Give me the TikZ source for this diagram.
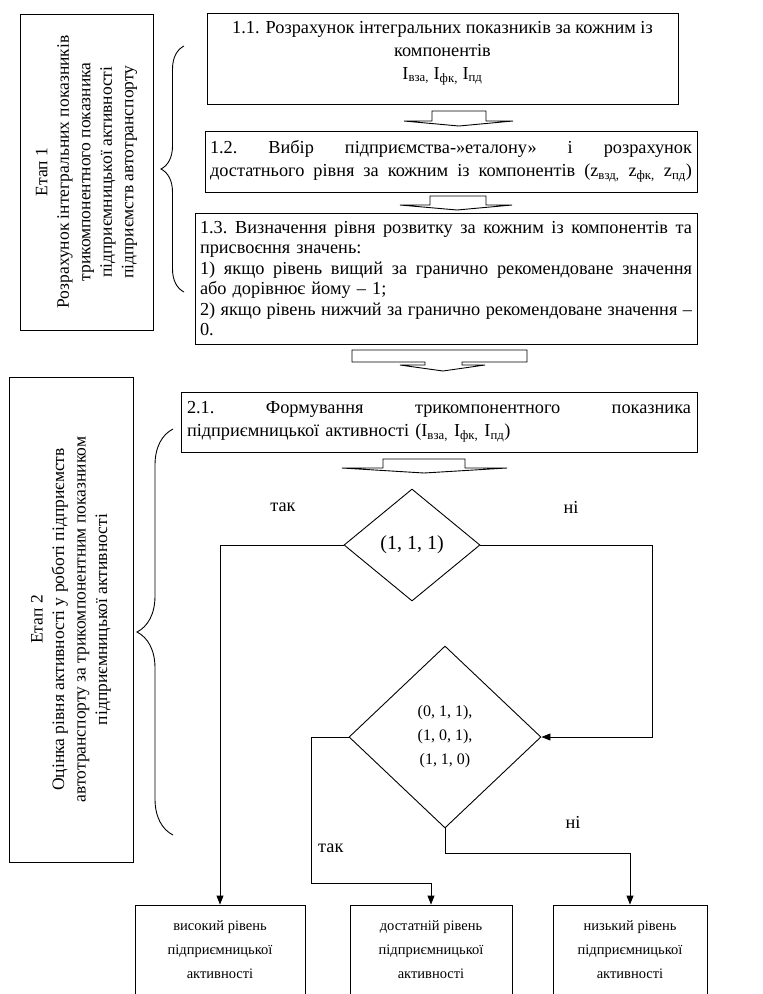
\documentclass[tikz,border=0pt]{standalone}
\usepackage{fontspec}
\setmainfont{Liberation Serif}
\usetikzlibrary{arrows.meta,shapes.geometric,decorations.pathreplacing}
\newcommand\fmain{\fontsize{18.3}{23}\selectfont}
\newcommand\fmainb{\fontsize{18.3}{20.5}\selectfont}
\newcommand\fstage{\fontsize{17.5}{21.5}\selectfont}
\newcommand\fsmall{\fontsize{14.5}{24}\selectfont}
\newcommand\fdia{\fontsize{16}{24}\selectfont}
\newcommand\fdiab{\fontsize{20}{24}\selectfont}
\newcommand\sbs[1]{\textsubscript{#1}}
\newcommand\jl[2]{\leavevmode{\frenchspacing\spaceskip=0.25em plus 1fil\relax\hbox to #1pt{#2}}}
\begin{document}
\begin{tikzpicture}[x=1pt,y=-1pt,
  box/.style={draw, line width=0.9pt, inner sep=0pt, align=center},
  arr/.style={line width=0.9pt, -{Triangle[length=9pt,width=7pt]}},
  ln/.style={line width=0.9pt},
  blk/.style={draw, line width=0.9pt, fill=white, line join=miter},
  lbl/.style={font=\fmain, inner sep=0pt}]
\useasboundingbox (0,0) rectangle (763,994);
\clip (0,0) rectangle (763,994);

% ---------- stage 1 ----------
\node[box, minimum width=133, minimum height=316] (st1) at (86.5,172) {};
\node[rotate=90, font=\fstage, align=center, inner sep=0pt] (st1t) at (st1.center)
  {Етап 1\\Розрахунок інтегральних показників\\трикомпонентного показника\\підприємницької активності\\підприємств автотранспорту};
\draw[ln, decorate, decoration={brace, amplitude=23pt, aspect=0.5}] (184,292) -- (184,46);

\node[box, minimum width=471, minimum height=91] (b11) at (442.5,58.5) {};
\node[font=\fmain, align=center, inner sep=0pt] (b11t) at (442.5,53)
  {1.1. Розрахунок інтегральних показників за кожним із\\компонентів\\I\sbs{вза,} I\sbs{фк,} I\sbs{пд}};

\draw[blk] (432,111) -- (486,111) -- (486,121) -- (513,121) -- (459,126) -- (404,121) -- (432,121) -- cycle;

\node[box, font=\fmain, minimum width=492, minimum height=61, text width=482, align=left] (b12) at (451,161.5)
  {\jl{482}{1.2. Вибір підприємства-»еталону» і розрахунок}\\\jl{482}{достатнього рівня за кожним із компонентів (z\sbs{взд,} z\sbs{фк,} z\sbs{пд})}};

\draw[blk] (430,196) -- (486,196) -- (486,205) -- (512,205) -- (457,210) -- (400,205) -- (430,205) -- cycle;

\node[box, font=\fmainb, minimum width=502, minimum height=131, text width=492, align=left] (b13) at (446,278.5)
  {\jl{492}{1.3. Визначення рівня розвитку за кожним із компонентів та}\\присвоєння значень:\\\jl{492}{1) якщо рівень вищий за гранично рекомендоване значення}\\або дорівнює йому – 1;\\\jl{492}{2) якщо рівень нижчий за гранично рекомендоване значення –}\\0.};

\draw[blk] (352,350) -- (527,350) -- (527,362) -- (462,362) -- (462,365) -- (485,365) -- (443,371) -- (400,365) -- (425,365) -- (425,362) -- (352,362) -- cycle;

% ---------- stage 2 ----------
\node[box, minimum width=124, minimum height=485] (st2) at (71,619.5) {};
\node[rotate=90, font=\fstage, align=center, inner sep=0pt] (st2t) at (st2.center)
  {Етап 2\\Оцінка рівня активності у роботі підприємств\\автотранспорту за трикомпонентним показником\\підприємницької активності};
\draw[ln, decorate, decoration={brace, amplitude=36pt, aspect=0.5}] (173,835) -- (173,429);

\node[box, font=\fmain, minimum width=516, minimum height=60, text width=504, align=left] (b21) at (439,422)
  {\jl{504}{2.1. Формування трикомпонентного показника}\\підприємницької активності (I\sbs{вза,} I\sbs{фк,} I\sbs{пд})};

\draw[blk] (383,459) -- (465,459) -- (465,468) -- (507,468) -- (424,473) -- (342,468) -- (383,468) -- cycle;

\node[draw, diamond, line width=0.9pt, minimum width=136, minimum height=112, inner sep=0pt, aspect=1.5, font=\fdiab] (d1) at (412,545) {(1, 1, 1)};
\node[draw, diamond, line width=0.9pt, minimum width=192, minimum height=182, inner sep=0pt, aspect=1.2, font=\fdia, align=center] (d2) at (445,737) {(0, 1, 1),\\(1, 0, 1),\\(1, 1, 0)};

\node[box, font=\fsmall, minimum width=170, minimum height=90] (bl) at (220,950) {високий рівень\\підприємницької\\активності};
\node[box, font=\fsmall, minimum width=162, minimum height=90] (bm) at (431,950) {достатній рівень\\підприємницької\\активності};
\node[box, font=\fsmall, minimum width=154, minimum height=90] (br) at (630,950) {низький рівень\\підприємницької\\активності};

\draw[arr] (d1.west) -| (bl.north);
\draw[arr] (d1.east) -- ++(172,0) |- (d2.east);
\draw[arr] (d2.west) -- ++(-37,0) -- ++(0,146) -| (bm.north);
\draw[arr] (d2.south) -- ++(0,25) -| (br.north);

\node[lbl] (yes1) at (283,507) {так};
\node[lbl] (no1) at (571,507) {ні};
\node[lbl, anchor=west] (yes2) at (318,848) {так};
\node[lbl] (no2) at (573,822) {ні};
\end{tikzpicture}
\end{document}
